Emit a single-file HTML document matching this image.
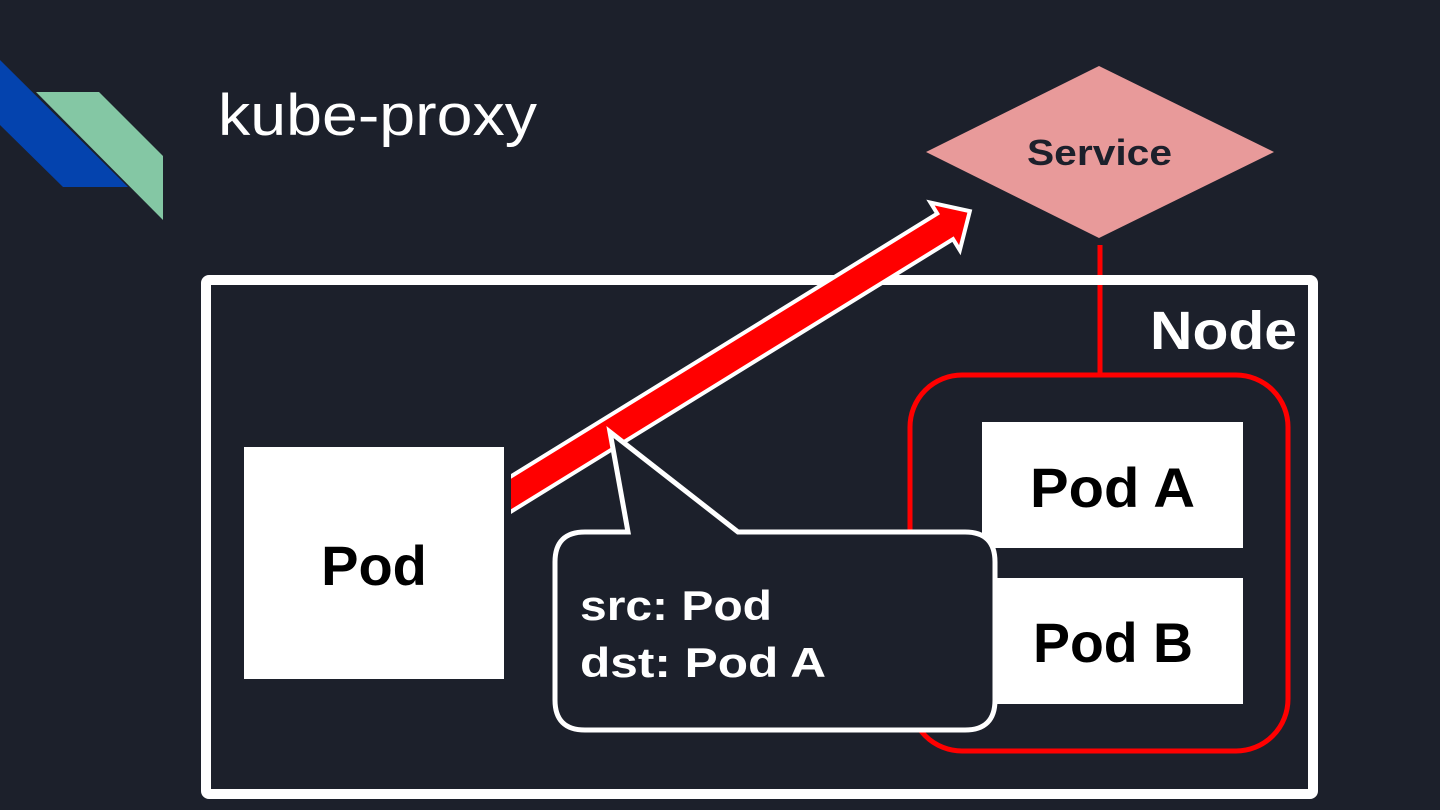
<!DOCTYPE html>
<html><head><meta charset="utf-8"><style>
html,body{margin:0;padding:0;background:#1c202b;}
svg{display:block}
text{font-family:"Liberation Sans","DejaVu Sans",sans-serif;}
</style></head><body>
<svg width="1440" height="810" viewBox="0 0 1440 810" xmlns="http://www.w3.org/2000/svg">
<rect width="1440" height="810" fill="#1c202b"/>
<polygon points="0,60 0,125 63,187 128,187" fill="#0443ae"/>
<polygon points="36,92 99,92 163,156 163,220" fill="#84c7a4"/>
<text x="218" y="135" font-size="58" fill="#ffffff" textLength="319" lengthAdjust="spacingAndGlyphs">kube-proxy</text>
<polygon points="1099,66 1274,152 1099,238 926,152" fill="#e89a9a"/>
<text x="1027" y="165" font-size="36" font-weight="bold" fill="#1c202b" textLength="145" lengthAdjust="spacingAndGlyphs">Service</text>
<line x1="1100" y1="245" x2="1100" y2="375" stroke="#ff0000" stroke-width="5"/>
<rect x="206" y="280" width="1107" height="514" fill="none" stroke="#ffffff" stroke-width="10" rx="3"/>
<text x="1150" y="349" font-size="54" font-weight="bold" fill="#ffffff" textLength="147" lengthAdjust="spacingAndGlyphs">Node</text>
<rect x="910" y="375" width="378" height="376" rx="52" fill="none" stroke="#ff0000" stroke-width="5"/>
<rect x="982" y="422" width="261" height="126" fill="#ffffff"/>
<text x="1030" y="507" font-size="56" font-weight="bold" fill="#000" textLength="165" lengthAdjust="spacingAndGlyphs">Pod A</text>
<rect x="982" y="578" width="261" height="126" fill="#ffffff"/>
<text x="1033" y="662" font-size="56" font-weight="bold" fill="#000" textLength="160" lengthAdjust="spacingAndGlyphs">Pod B</text>
<rect x="244" y="447" width="260" height="232" fill="#ffffff"/>
<text x="374" y="585" font-size="56" font-weight="bold" fill="#000" text-anchor="middle">Pod</text>
<svg x="511" y="0" width="929" height="810" overflow="hidden">
<g transform="translate(0,494) rotate(-31.65)">
<polygon points="-40,-15 510,-15 510,-28 539,0 510,28 510,15 -40,15" fill="#ff0000" stroke="#ffffff" stroke-width="4" stroke-linejoin="miter"/>
</g>
</svg>
<path d="M585,532 L628,532 L610,432 L738,532 L965,532 Q995,532 995,562 L995,700 Q995,730 965,730 L585,730 Q555,730 555,700 L555,562 Q555,532 585,532 Z" fill="#1c202b" stroke="#ffffff" stroke-width="5" stroke-linejoin="miter"/>
<text x="580" y="620" font-size="42" font-weight="bold" fill="#ffffff" textLength="192" lengthAdjust="spacingAndGlyphs">src: Pod</text>
<text x="580" y="677" font-size="42" font-weight="bold" fill="#ffffff" textLength="246" lengthAdjust="spacingAndGlyphs">dst: Pod A</text>
</svg>
</body></html>
